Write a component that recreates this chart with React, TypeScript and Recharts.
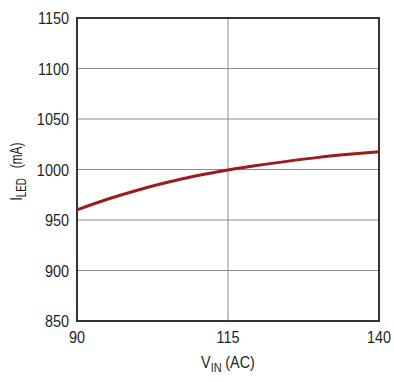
import { LineChart, Line, XAxis, YAxis, CartesianGrid, ReferenceArea } from 'recharts';

const vin = [90, 95, 100, 105, 110, 115, 120, 125, 130, 135, 140];
const iled = [960, 970.5, 979.5, 987.3, 994, 999.5, 1004.2, 1008.3, 1012, 1015, 1017.5];
const xTicks = [90, 115, 140];
const yTicks = [850, 900, 950, 1000, 1050, 1100, 1150];

const data = vin.map((v, i) => ({ vin: v, iled: iled[i] }));

const FONT = '"Liberation Sans", Arial, sans-serif';
const TEXT = '#231f20';
// the original uses a condensed face, so squeeze the text horizontally
const SQUEEZE = 0.85;

const YTick = ({ x, y, payload }: any) => (
  <text
    transform={`translate(${x}, ${y}) scale(${SQUEEZE}, 1)`}
    textAnchor="end"
    dy="0.355em"
    fontFamily={FONT}
    fontSize={17}
    fill={TEXT}
  >
    {payload.value}
  </text>
);

const XTick = ({ x, y, payload }: any) => (
  <text
    transform={`translate(${x}, ${y + 22}) scale(${SQUEEZE}, 1)`}
    textAnchor="middle"
    fontFamily={FONT}
    fontSize={17}
    fill={TEXT}
  >
    {payload.value}
  </text>
);

const XLabel = ({ viewBox }: any) => {
  const cx = viewBox.x + viewBox.width / 2;
  return (
    <text
      transform={`translate(${cx}, ${viewBox.y + 47}) scale(${SQUEEZE}, 1)`}
      textAnchor="middle"
      fontFamily={FONT}
      fontSize={17}
      fill={TEXT}
    >
      V<tspan dy={4} fontSize={13}>IN</tspan>
      <tspan dy={-4} dx={4}>(AC)</tspan>
    </text>
  );
};

const YLabel = ({ viewBox }: any) => {
  const cy = viewBox.y + viewBox.height / 2 + 2;
  return (
    <text
      transform={`translate(22, ${cy}) rotate(-90) scale(0.7, 1)`}
      textAnchor="middle"
      fontFamily={FONT}
      fontSize={17}
      fill={TEXT}
    >
      I<tspan dy={4} fontSize={14}>LED</tspan>
      <tspan dy={-4} dx={14}>(mA)</tspan>
    </text>
  );
};

export default function App() {
  return (
    <div style={{ position: 'absolute', left: 0, top: 0, background: '#fff' }}>
      <LineChart width={394} height={382} data={data} margin={{ top: 18, right: 15, bottom: 11, left: 8 }}>
        <CartesianGrid stroke="#8c8c8c" strokeWidth={1} vertical horizontal />
        <XAxis
          dataKey="vin"
          type="number"
          domain={[90, 140]}
          ticks={xTicks}
          height={50}
          axisLine={false}
          tickLine={false}
          tickSize={0}
          tickMargin={0}
          tick={<XTick />}
          label={{ content: XLabel }}
        />
        <YAxis
          type="number"
          domain={[850, 1150]}
          ticks={yTicks}
          width={69}
          axisLine={false}
          tickLine={false}
          tickSize={0}
          tickMargin={8}
          interval={0}
          tick={<YTick />}
          label={{ content: YLabel }}
        />
        <ReferenceArea x1={90} x2={140} y1={850} y2={1150} fill="none" stroke="#333" strokeWidth={2} />
        <Line
          type="monotone"
          dataKey="iled"
          stroke="#9e1b1b"
          strokeWidth={3}
          dot={false}
          isAnimationActive={false}
        />
      </LineChart>
    </div>
  );
}
